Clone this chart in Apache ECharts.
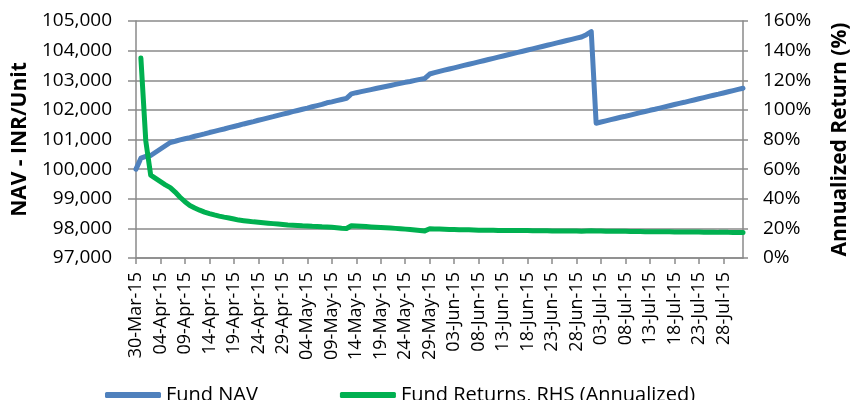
<!DOCTYPE html>
<html>
<head>
<meta charset="utf-8">
<script src="https://cdn.jsdelivr.net/npm/echarts@6/dist/echarts.min.js"></script>
<style>
  html, body { margin: 0; padding: 0; background: #fff; }
  #chart { width: 859px; height: 400px; }
</style>
</head>
<body>
<div id="chart"></div>
<script>
// 日期 (30-Mar-15 .. 01-Aug-15, daily)
var dates = [
  '30-Mar-15', '31-Mar-15',
  '01-Apr-15', '02-Apr-15', '03-Apr-15', '04-Apr-15', '05-Apr-15', '06-Apr-15', '07-Apr-15', '08-Apr-15', '09-Apr-15', '10-Apr-15',
  '11-Apr-15', '12-Apr-15', '13-Apr-15', '14-Apr-15', '15-Apr-15', '16-Apr-15', '17-Apr-15', '18-Apr-15', '19-Apr-15', '20-Apr-15',
  '21-Apr-15', '22-Apr-15', '23-Apr-15', '24-Apr-15', '25-Apr-15', '26-Apr-15', '27-Apr-15', '28-Apr-15', '29-Apr-15', '30-Apr-15',
  '01-May-15', '02-May-15', '03-May-15', '04-May-15', '05-May-15', '06-May-15', '07-May-15', '08-May-15', '09-May-15', '10-May-15',
  '11-May-15', '12-May-15', '13-May-15', '14-May-15', '15-May-15', '16-May-15', '17-May-15', '18-May-15', '19-May-15', '20-May-15',
  '21-May-15', '22-May-15', '23-May-15', '24-May-15', '25-May-15', '26-May-15', '27-May-15', '28-May-15', '29-May-15', '30-May-15', '31-May-15',
  '01-Jun-15', '02-Jun-15', '03-Jun-15', '04-Jun-15', '05-Jun-15', '06-Jun-15', '07-Jun-15', '08-Jun-15', '09-Jun-15', '10-Jun-15',
  '11-Jun-15', '12-Jun-15', '13-Jun-15', '14-Jun-15', '15-Jun-15', '16-Jun-15', '17-Jun-15', '18-Jun-15', '19-Jun-15', '20-Jun-15',
  '21-Jun-15', '22-Jun-15', '23-Jun-15', '24-Jun-15', '25-Jun-15', '26-Jun-15', '27-Jun-15', '28-Jun-15', '29-Jun-15', '30-Jun-15',
  '01-Jul-15', '02-Jul-15', '03-Jul-15', '04-Jul-15', '05-Jul-15', '06-Jul-15', '07-Jul-15', '08-Jul-15', '09-Jul-15', '10-Jul-15',
  '11-Jul-15', '12-Jul-15', '13-Jul-15', '14-Jul-15', '15-Jul-15', '16-Jul-15', '17-Jul-15', '18-Jul-15', '19-Jul-15', '20-Jul-15',
  '21-Jul-15', '22-Jul-15', '23-Jul-15', '24-Jul-15', '25-Jul-15', '26-Jul-15', '27-Jul-15', '28-Jul-15', '29-Jul-15', '30-Jul-15', '31-Jul-15',
  '01-Aug-15'
];

// Fund NAV (INR/Unit)
var fundNav = [
  100000, 100370,
  100430, 100460, 100570, 100680, 100790, 100900, 100940, 100985, 101025, 101065,
  101110, 101150, 101190, 101235, 101275, 101315, 101355, 101400, 101440, 101480,
  101525, 101565, 101605, 101650, 101690, 101730, 101770, 101815, 101855, 101895,
  101940, 101980, 102020, 102060, 102105, 102145, 102185, 102240, 102270, 102310,
  102350, 102390, 102540, 102580, 102615, 102650, 102685, 102720, 102755, 102790,
  102825, 102860, 102895, 102930, 102960, 102995, 103030, 103060, 103210, 103255, 103300,
  103340, 103380, 103420, 103460, 103500, 103540, 103580, 103620, 103660, 103700,
  103740, 103780, 103820, 103860, 103900, 103940, 103980, 104020, 104060, 104100,
  104140, 104180, 104220, 104260, 104300, 104340, 104380, 104420, 104460, 104540,
  104640, 101550, 101590, 101630, 101670, 101710, 101750, 101785, 101825, 101865,
  101905, 101945, 101985, 102020, 102060, 102100, 102140, 102180, 102220, 102255,
  102295, 102335, 102375, 102415, 102455, 102495, 102530, 102570, 102610, 102650, 102690,
  102730
];

// Fund Returns, annualized (%)
var fundReturns = [
  null, 135,
  79, 56, 53.8, 51.6, 49.4, 47.5, 44.5, 41, 38, 35.5,
  33.8, 32.3, 31.0, 30.0, 29.1, 28.3, 27.6, 27.0, 26.3, 25.6,
  25.2, 24.8, 24.4, 24.1, 23.8, 23.5, 23.2, 22.9, 22.6, 22.3,
  22.1, 21.9, 21.7, 21.6, 21.4, 21.3, 21.1, 21.0, 20.7, 20.4,
  20.1, 19.9, 21.8, 21.6, 21.4, 21.2, 21.0, 20.8, 20.6, 20.4,
  20.2, 20.0, 19.8, 19.5, 19.2, 18.9, 18.6, 18.3, 19.7, 19.6, 19.5,
  19.4, 19.3, 19.2, 19.1, 19.0, 19.0, 18.9, 18.8, 18.8, 18.7,
  18.7, 18.6, 18.6, 18.6, 18.5, 18.5, 18.5, 18.5, 18.4, 18.4,
  18.4, 18.4, 18.3, 18.3, 18.3, 18.2, 18.2, 18.2, 18.1, 18.3,
  18.4, 18.3, 18.2, 18.1, 18.1, 18.0, 18.0, 18.0, 17.9, 17.9,
  17.9, 17.8, 17.8, 17.8, 17.7, 17.7, 17.7, 17.6, 17.6, 17.6,
  17.5, 17.5, 17.5, 17.4, 17.4, 17.4, 17.3, 17.3, 17.3, 17.2, 17.2,
  17.2
];

var navTicks = { min: 97000, max: 105000, step: 1000 };
var retTicks = { min: 0, max: 160, step: 20 };

var FONT = 'Open Sans';
var GRAY = '#8a8a8a';

var chart = echarts.init(document.getElementById('chart'));
chart.setOption({
  animation: false,
  textStyle: { fontFamily: FONT },
  grid: { left: 136, right: 102, top: 21, bottom: 142 },
  legend: {
    left: 100,
    top: 380,
    itemWidth: 56,
    itemHeight: 6,
    itemGap: 82,
    icon: 'roundRect',
    textStyle: { fontFamily: FONT, fontSize: 20, color: '#000' },
    data: ['Fund NAV', 'Fund Returns, RHS (Annualized)']
  },
  xAxis: {
    type: 'category',
    data: dates,
    boundaryGap: false,
    axisLine: { lineStyle: { color: GRAY, width: 1.5 } },
    axisTick: { interval: 4, length: 6, lineStyle: { color: GRAY, width: 1.5 } },
    axisLabel: {
      interval: 4,
      rotate: 90,
      margin: 14,
      fontFamily: FONT,
      fontSize: 18,
      color: '#000'
    },
    splitLine: { show: false }
  },
  yAxis: [
    {
      type: 'value',
      min: navTicks.min,
      max: navTicks.max,
      interval: navTicks.step,
      name: 'NAV - INR/Unit',
      nameLocation: 'middle',
      nameRotate: 90,
      nameGap: 104,
      nameTextStyle: { fontFamily: FONT, fontSize: 21, fontWeight: 'bold', color: '#000' },
      axisLine: { show: true, lineStyle: { color: GRAY, width: 1.5 } },
      axisTick: { show: true, length: 8, lineStyle: { color: GRAY, width: 1.5 } },
      axisLabel: {
        margin: 24,
        fontFamily: FONT,
        fontSize: 19,
        color: '#000',
        formatter: function (v) { return v.toLocaleString('en-US'); }
      },
      splitLine: { show: true, lineStyle: { color: GRAY, width: 1.5 } }
    },
    {
      type: 'value',
      position: 'right',
      min: retTicks.min,
      max: retTicks.max,
      interval: retTicks.step,
      name: 'Annualized Return (%)',
      nameLocation: 'middle',
      nameRotate: 90,
      nameGap: 87,
      nameTextStyle: { fontFamily: FONT, fontSize: 21, fontWeight: 'bold', color: '#000' },
      axisLine: { show: true, lineStyle: { color: GRAY, width: 1.5 } },
      axisTick: { show: true, length: 5, lineStyle: { color: GRAY, width: 1.5 } },
      axisLabel: {
        margin: 20,
        fontFamily: FONT,
        fontSize: 19,
        color: '#000',
        formatter: '{value}%'
      },
      splitLine: { show: false }
    }
  ],
  series: [
    {
      name: 'Fund NAV',
      type: 'line',
      yAxisIndex: 0,
      data: fundNav,
      symbol: 'none',
      itemStyle: { color: '#4f81bd' },
      lineStyle: { color: '#4f81bd', width: 5, cap: 'round', join: 'round' }
    },
    {
      name: 'Fund Returns, RHS (Annualized)',
      type: 'line',
      yAxisIndex: 1,
      data: fundReturns,
      symbol: 'none',
      itemStyle: { color: '#00b050' },
      lineStyle: { color: '#00b050', width: 5, cap: 'round', join: 'round' }
    }
  ]
});
</script>
</body>
</html>
